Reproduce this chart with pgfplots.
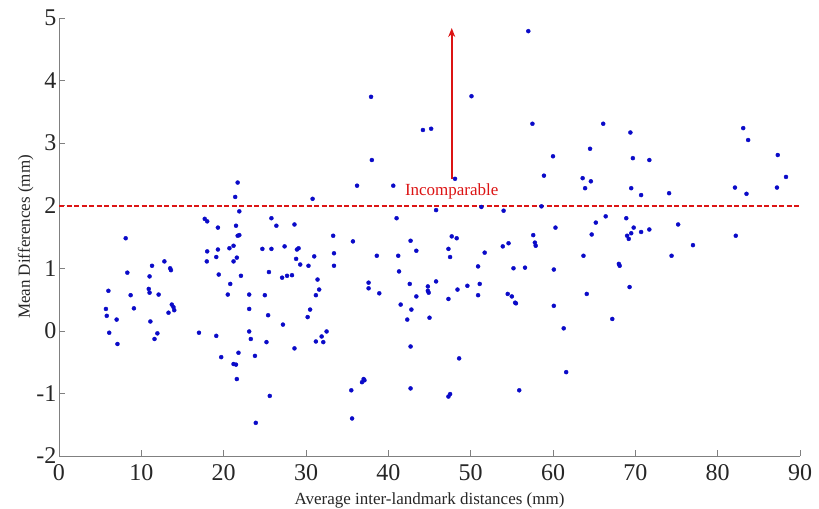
\documentclass[border=0pt]{standalone}
\usepackage{fontspec}
\setmainfont{Liberation Serif}
\usepackage{pgfplots}
\pgfplotsset{compat=1.18}
\usetikzlibrary{arrows.meta}

\definecolor{dotblue}{RGB}{10,10,200}
\definecolor{limred}{RGB}{220,20,20}

\begin{document}
\begin{tikzpicture}
\begin{axis}[
    scale only axis,
    width=741pt, height=438pt,
    xmin=0, xmax=90, ymin=-2, ymax=5,
    xtick={0,10,...,90}, ytick={-2,-1,...,5},
    axis x line=bottom, axis y line=left,
    axis line style={-, draw=black!50, line width=0.7pt},
    tick align=inside, major tick length=6pt,
    tick style={draw=black!50, line width=0.7pt},
    /pgf/number format/assume math mode=true,
    tick label style={font=\fontsize{24}{26}\selectfont, text=black!85},
    xticklabel style={yshift=-5pt},
    yticklabel style={xshift=1pt},
    xlabel={Average inter-landmark distances (mm)},
    ylabel={Mean Differences (mm)},
    label style={font=\fontsize{17}{19}\selectfont, text=black!85},
    xlabel style={yshift=-5pt},
    ylabel style={yshift=-4pt},
    clip=false,
]
\addplot[only marks, mark=*, mark size=2pt, color=dotblue] coordinates {
(5.7,0.35)(5.8,0.24)(6.0,0.64)(6.1,-0.03)(7.0,0.18)(7.1,-0.21)(8.1,1.48)(8.3,0.93)
(8.7,0.57)(9.1,0.36)(11.0,0.87)(10.9,0.67)(11.0,0.61)(11.1,0.15)(11.3,1.04)(11.6,-0.13)
(11.95,-0.04)(12.1,0.58)(12.8,1.11)(13.5,1.0)(13.6,0.97)(13.3,0.29)(13.7,0.42)(13.9,0.38)(14.0,0.33)
(17.0,-0.03)(17.7,1.79)(18.0,1.75)(18.0,1.27)(17.95,1.11)(19.1,1.18)(19.1,-0.08)(19.3,1.65)
(19.3,1.30)(19.4,0.90)(19.7,-0.42)(20.5,0.58)(20.7,1.32)(20.8,0.75)(21.2,1.11)(21.2,1.36)
(21.4,2.14)(21.5,1.68)(21.2,-0.53)(21.5,-0.54)(21.6,1.17)(21.7,2.37)(21.6,-0.77)(21.7,1.52)
(21.9,1.53)(21.9,1.91)(21.8,-0.35)(22.1,0.88)(23.1,-0.01)(23.3,-0.13)(23.1,0.35)(23.1,0.58)
(23.8,-0.40)(23.9,-1.47)(24.7,1.31)(25.0,0.57)(25.2,-0.18)(25.4,0.25)(25.5,0.94)(25.6,-1.04)
(25.8,1.31)(25.8,1.80)(26.4,1.68)(27.2,0.10)(27.1,0.85)(27.4,1.35)(27.7,0.88)(28.3,0.89)
(28.6,-0.28)(28.6,1.70)(28.8,1.15)(28.9,1.30)(29.1,1.32)(29.3,1.06)(30.2,0.22)(30.3,1.04)
(30.5,0.34)(30.8,2.11)(31.0,1.19)(31.2,0.57)(31.2,-0.17)(31.4,0.82)(31.6,0.66)(31.9,-0.09)
(32.1,-0.18)(32.5,-0.01)(33.3,1.52)(33.4,1.24)(33.4,1.04)
(35.5,-0.95)(35.6,-1.40)(35.7,1.43)(36.2,2.32)(36.8,-0.82)(37.0,-0.77)(37.1,-0.79)(37.6,0.77)
(37.6,0.68)(37.9,3.74)(38.0,2.73)(38.6,1.20)(38.9,0.60)(40.6,2.32)(41.0,1.80)(41.2,1.20)
(41.3,0.95)(41.5,0.42)(42.3,0.18)(42.7,1.44)(42.6,0.75)(42.7,-0.25)(42.8,0.34)(42.7,-0.92)
(43.4,1.28)(43.4,0.55)(44.2,3.21)(45.2,3.23)(44.8,0.71)(44.8,0.64)(44.9,0.61)(45.0,0.21)
(45.8,1.93)(45.8,0.79)(47.3,-1.05)(47.5,-1.01)(47.3,1.31)(47.5,1.18)(47.3,0.51)(47.7,1.51)
(48.1,2.43)(48.3,1.48)(48.4,0.66)(48.6,-0.44)(49.6,0.72)(50.1,3.75)(50.9,1.03)(50.9,0.57)
(51.1,0.75)(51.3,1.98)(51.7,1.25)
(54.0,1.92)(53.9,1.35)(54.5,0.59)(54.6,1.40)(55.0,0.55)(55.2,1.0)(55.4,0.45)(55.5,0.44)
(55.9,-0.95)(56.6,1.01)(57.0,4.79)(57.5,3.31)(57.6,1.53)(57.8,1.41)(57.9,1.36)(58.6,1.99)
(58.9,2.48)(60.0,2.79)(60.1,0.98)(60.1,0.40)(60.3,1.65)(61.3,0.04)(61.6,-0.66)
(63.6,2.44)(63.7,1.20)(63.9,2.28)(64.1,0.59)(64.5,2.91)(64.6,2.39)(64.7,1.54)(65.2,1.73)
(66.1,3.31)(66.4,1.83)(67.2,0.19)(68.0,1.07)(68.1,1.04)(68.9,1.80)(69.0,1.52)(69.2,1.47)
(69.4,3.17)(69.5,2.28)(69.3,0.70)(69.5,1.56)(69.7,2.76)(69.8,1.65)(70.7,2.17)(70.7,1.58)
(71.7,2.73)(71.7,1.62)(74.1,2.20)(74.4,1.20)(75.2,1.70)(77.0,1.37)(82.1,2.29)(82.2,1.52)
(83.1,3.24)(83.5,2.19)(83.7,3.05)(87.2,2.29)(87.3,2.81)(88.3,2.46)
};
\addplot[limred, line width=2pt, dash pattern=on 5pt off 2.5pt] coordinates {(0,2) (90,2)};
\addplot[limred, line width=2.2pt, -{Stealth[length=9pt,width=7pt]}] coordinates {(47.7,2.42) (47.7,4.84)};
\node[text=limred, font=\fontsize{17}{19}\selectfont, inner sep=1pt] at (axis cs:47.7,2.23) {Incomparable};
\coordinate (bl) at (rel axis cs:0,0);
\coordinate (tr) at (rel axis cs:1,1);
\end{axis}
\pgfresetboundingbox
\path[use as bounding box] ([shift={(-59pt,-53pt)}]bl) rectangle ([shift={(19pt,18pt)}]tr);
\end{tikzpicture}
\end{document}
